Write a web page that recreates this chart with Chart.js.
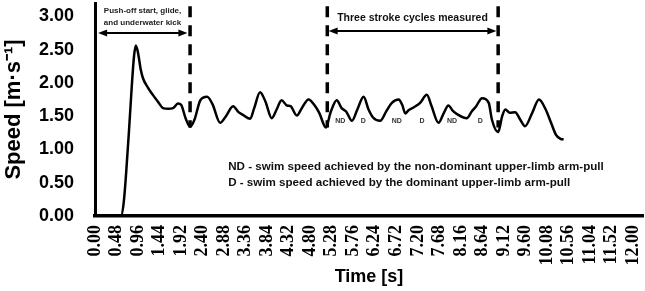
<!DOCTYPE html>
<html lang="en">
<head>
<meta charset="UTF-8">
<title>Swim speed over time</title>
<script src="https://cdn.jsdelivr.net/npm/chart.js"></script>
<style>
  html, body { margin: 0; padding: 0; background: #fff; }
</style>
</head>
<body>
<canvas id="speedChart" width="645" height="291"></canvas>

<script>
// time [s] and speed [m/s]
const times = [0.00, 0.58, 0.64, 0.70, 0.76, 0.82, 0.87, 0.91, 0.96, 1.02, 1.07, 1.18, 1.29, 1.40, 1.52,
  1.63, 1.74, 1.85, 1.92, 2.02, 2.12, 2.22, 2.35, 2.50, 2.62, 2.79, 2.92, 3.08, 3.20, 3.30, 3.46, 3.55,
  3.68, 3.80, 3.94, 4.05, 4.16, 4.28, 4.36, 4.50, 4.62, 4.76, 4.90, 5.00, 5.15, 5.25, 5.39, 5.50, 5.60,
  5.73, 5.85, 5.99, 6.10, 6.20, 6.36, 6.50, 6.62, 6.77, 6.85, 6.92, 6.99, 7.10, 7.25, 7.40, 7.50, 7.66,
  7.78, 7.88, 7.98, 8.10, 8.29, 8.40, 8.50, 8.63, 8.78, 8.85, 8.99, 9.08, 9.15, 9.25, 9.37, 9.48, 9.59,
  9.75, 9.90, 10.05, 10.17, 10.28, 10.38, 10.45];
const speeds = [0, 0, 0.2, 0.7, 1.3, 1.95, 2.4, 2.56, 2.45, 2.2, 2.07, 1.93, 1.82, 1.72, 1.62,
  1.61, 1.62, 1.69, 1.67, 1.47, 1.34, 1.45, 1.74, 1.79, 1.68, 1.40, 1.50, 1.65, 1.56, 1.52, 1.46, 1.62,
  1.86, 1.72, 1.47, 1.60, 1.74, 1.66, 1.65, 1.51, 1.63, 1.75, 1.66, 1.55, 1.33, 1.55, 1.74, 1.62, 1.57,
  1.43, 1.60, 1.79, 1.60, 1.48, 1.43, 1.58, 1.70, 1.75, 1.67, 1.54, 1.59, 1.63, 1.70, 1.82, 1.66, 1.40,
  1.55, 1.66, 1.58, 1.52, 1.47, 1.57, 1.65, 1.77, 1.70, 1.45, 1.26, 1.50, 1.60, 1.55, 1.56, 1.45, 1.35,
  1.55, 1.75, 1.60, 1.40, 1.22, 1.16, 1.15];

const xTickLabels = ['0.00', '0.48', '0.96', '1.44', '1.92', '2.40', '2.88', '3.36', '3.84', '4.32',
  '4.80', '5.28', '5.76', '6.24', '6.72', '7.20', '7.68', '8.16', '8.64', '9.12', '9.60', '10.08',
  '10.56', '11.04', '11.52', '12.00'];
const yTickLabels = ['0.00', '0.50', '1.00', '1.50', '2.00', '2.50', '3.00'];

// dashed phase boundaries [s]
const phaseTimes = [2.12, 5.18, 8.99];
// ND / D markers under the stroke cycles
const pullLabels = ['ND', 'D', 'ND', 'D', 'ND', 'D'];
const pullTimes = [5.47, 5.98, 6.73, 7.29, 7.96, 8.59];
const pullSpeeds = [1.43, 1.43, 1.43, 1.43, 1.43, 1.43];

const legendLines = [
  'ND - swim speed achieved by the non-dominant upper-limb arm-pull',
  'D - swim speed achieved by the dominant upper-limb arm-pull'
];

function arrow(ctx, x1, x2, yy) {
  const head = 9, half = 3.5;
  ctx.beginPath();
  ctx.moveTo(x1 + head - 1, yy);
  ctx.lineTo(x2 - head + 1, yy);
  ctx.stroke();
  ctx.beginPath();
  ctx.moveTo(x1, yy); ctx.lineTo(x1 + head, yy - half); ctx.lineTo(x1 + head, yy + half);
  ctx.closePath(); ctx.fill();
  ctx.beginPath();
  ctx.moveTo(x2, yy); ctx.lineTo(x2 - head, yy - half); ctx.lineTo(x2 - head, yy + half);
  ctx.closePath(); ctx.fill();
}

const annotations = {
  id: 'annotations',
  afterDatasetsDraw(chart) {
    const { ctx } = chart;
    const x = chart.scales.x, y = chart.scales.y;
    ctx.save();
    ctx.strokeStyle = '#000';
    ctx.fillStyle = '#000';

    // dashed lines
    ctx.lineWidth = 3.5;
    ctx.setLineDash([11, 8]);
    phaseTimes.forEach(t => {
      const px = x.getPixelForValue(t);
      ctx.beginPath();
      ctx.moveTo(px, y.getPixelForValue(3.15));
      ctx.lineTo(px, y.getPixelForValue(1.33));
      ctx.stroke();
    });
    ctx.setLineDash([]);

    // double arrows
    ctx.lineWidth = 2;
    arrow(ctx, x.getPixelForValue(0.07), x.getPixelForValue(2.06), y.getPixelForValue(2.75));
    arrow(ctx, x.getPixelForValue(5.21), x.getPixelForValue(8.95), y.getPixelForValue(2.78));

    // phase captions
    ctx.textAlign = 'center';
    ctx.textBaseline = 'middle';
    ctx.font = 'bold 8px "Liberation Sans"';
    ctx.fillStyle = '#222';
    ctx.fillText('Push-off start, glide,', x.getPixelForValue(1.06), y.getPixelForValue(3.09));
    ctx.fillText('and underwater kick', x.getPixelForValue(1.06), y.getPixelForValue(2.91));
    ctx.font = 'bold 10.5px "Liberation Sans"';
    ctx.fillStyle = '#111';
    ctx.fillText('Three stroke cycles measured', x.getPixelForValue(7.08), y.getPixelForValue(2.97));

    // ND / D markers
    ctx.font = 'bold 7px "Liberation Sans"';
    ctx.fillStyle = '#333';
    pullLabels.forEach((l, i) => {
      ctx.fillText(l, x.getPixelForValue(pullTimes[i]), y.getPixelForValue(pullSpeeds[i]));
    });

    // explanation
    ctx.textAlign = 'left';
    ctx.font = 'bold 11.6px "Liberation Sans"';
    ctx.fillStyle = '#111';
    ctx.fillText(legendLines[0], x.getPixelForValue(2.97), y.getPixelForValue(0.74));
    ctx.fillText(legendLines[1], x.getPixelForValue(2.97), y.getPixelForValue(0.50));
    ctx.restore();
  }
};

const ctx = document.getElementById('speedChart').getContext('2d');

new Chart(ctx, {
  type: 'line',
  data: {
    datasets: [{
      data: times.map((t, i) => ({ x: t, y: speeds[i] })),
      borderColor: '#000',
      borderWidth: 2.5,
      pointRadius: 0,
      fill: false,
      cubicInterpolationMode: 'monotone'
    }]
  },
  options: {
    responsive: false,
    animation: false,
    layout: { padding: { top: 3, right: 2, left: 0, bottom: 0 } },
    plugins: {
      legend: { display: false },
      tooltip: { enabled: false }
    },
    scales: {
      x: {
        type: 'linear',
        min: 0,
        max: 12.22,
        grid: { display: false, drawTicks: false },
        border: { display: true, color: '#000', width: 3.5 },
        afterBuildTicks: s => { s.ticks = xTickLabels.map(l => ({ value: parseFloat(l) })); },
        afterFit: s => { s.height = 75; s.paddingLeft = 0; s.paddingRight = 0; },
        ticks: {
          autoSkip: false,
          minRotation: 90,
          maxRotation: 90,
          padding: 9,
          color: '#000',
          font: { family: 'Liberation Serif', size: 18, weight: 'bold' },
          callback: (v, i) => xTickLabels[i]
        },
        title: {
          display: true,
          text: 'Time [s]',
          color: '#000',
          font: { family: 'Liberation Sans', size: 18, weight: 'bold' },
          padding: { top: 0, bottom: 3 }
        }
      },
      y: {
        min: 0,
        max: 3.2,
        grid: { display: false, drawTicks: false },
        border: { display: true, color: '#000', width: 3 },
        afterBuildTicks: s => { s.ticks = yTickLabels.map(l => ({ value: parseFloat(l) })); },
        afterFit: s => { s.width = 95; s.paddingTop = 0; s.paddingBottom = 0; },
        ticks: {
          padding: 21,
          color: '#000',
          font: { family: 'Liberation Sans', size: 18, weight: 'bold' },
          callback: (v, i) => yTickLabels[i]
        },
        title: {
          display: true,
          text: 'Speed [m·s⁻¹]',
          color: '#000',
          font: { family: 'Liberation Sans', size: 22, weight: 'bold' },
          padding: { top: 1, bottom: 0 }
        }
      }
    }
  },
  plugins: [annotations]
});
</script>
</body>
</html>
